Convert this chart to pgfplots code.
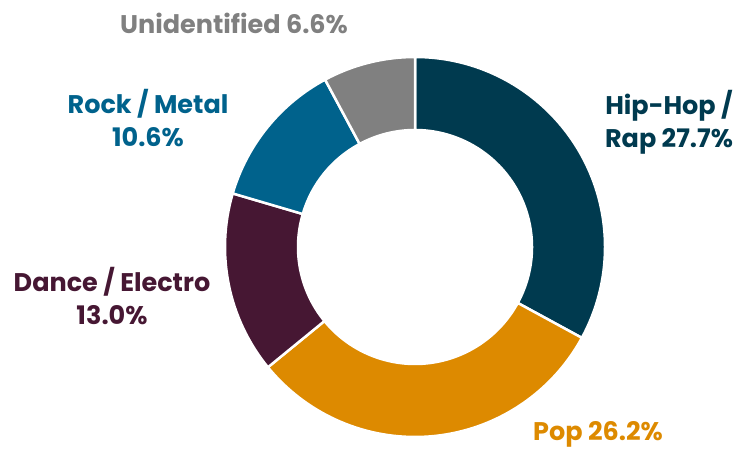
\documentclass[border=0pt]{standalone}
\usepackage{pgfplots}
\usepackage{pgfplotstable}
\pgfplotsset{compat=1.18}
\usepackage{fontspec}
\setmainfont{Poppins}
\definecolor{chip}{HTML}{003A4F}
\definecolor{cpop}{HTML}{DD8A00}
\definecolor{cdance}{HTML}{461733}
\definecolor{crock}{HTML}{00628C}
\definecolor{cunid}{HTML}{808080}

\pgfplotstableread[col sep=comma]{
label,value
Hip-Hop / Rap,27.7
Pop,26.2
Dance / Electro,13.0
Rock / Metal,10.6
Unidentified,6.6
}\datatable

% cumulative angles (clockwise from 90 deg)
\gdef\total{0}
\foreach \i in {0,...,4}{%
  \pgfplotstablegetelem{\i}{value}\of\datatable
  \pgfmathsetmacro\tmp{\total+\pgfplotsretval}
  \global\let\total\tmp
}
\gdef\cum{0}
\expandafter\xdef\csname ang0\endcsname{90}
\foreach \i in {0,...,4}{%
  \pgfplotstablegetelem{\i}{value}\of\datatable
  \pgfmathsetmacro\tmp{\cum+\pgfplotsretval}
  \global\let\cum\tmp
  \pgfmathsetmacro\a{90-360*(\cum/\total)}
  \pgfmathtruncatemacro\j{\i+1}
  \expandafter\xdef\csname ang\j\endcsname{\a}
}

\def\cx{415}
\def\cy{202}
\def\Ro{190}
\def\Ri{117}
\newcommand\slice[3]{%
  \fill[#1,draw=white,line width=2.5pt,line join=round]
    (axis cs:{\cx+\Ro*cos(#2)},{\cy+\Ro*sin(#2)})
    arc[start angle=#2,end angle=#3,radius=\Ro pt]
    -- (axis cs:{\cx+\Ri*cos(#3)},{\cy+\Ri*sin(#3)})
    arc[start angle=#3,end angle=#2,radius=\Ri pt] -- cycle;}

\begin{document}
\begin{tikzpicture}
\begin{axis}[
  x=1pt,y=1pt,xmin=0,xmax=738,ymin=0,ymax=449,
  hide axis,clip=false,scale only axis,
]
\path (axis cs:0,0) rectangle (axis cs:738,449);
\slice{chip}{\csname ang0\endcsname}{\csname ang1\endcsname}
\slice{cpop}{\csname ang1\endcsname}{\csname ang2\endcsname}
\slice{cdance}{\csname ang2\endcsname}{\csname ang3\endcsname}
\slice{crock}{\csname ang3\endcsname}{\csname ang4\endcsname}
\slice{cunid}{\csname ang4\endcsname}{\csname ang5\endcsname}
\begin{scope}[every node/.style={font=\fontsize{25.5}{33}\selectfont\bfseries,align=center,inner sep=0pt}]
\node[text=chip] at (axis cs:669,327) {Hip-Hop /\\Rap 27.7\%};
\node[text=cpop] at (axis cs:598,15) {Pop 26.2\%};
\node[text=cdance] at (axis cs:112,153) {Dance / Electro\\13.0\%};
\node[text=crock] at (axis cs:148,331) {Rock / Metal\\10.6\%};
\node[text=cunid] at (axis cs:234,426) {Unidentified 6.6\%};
\end{scope}
\end{axis}
\end{tikzpicture}
\end{document}
